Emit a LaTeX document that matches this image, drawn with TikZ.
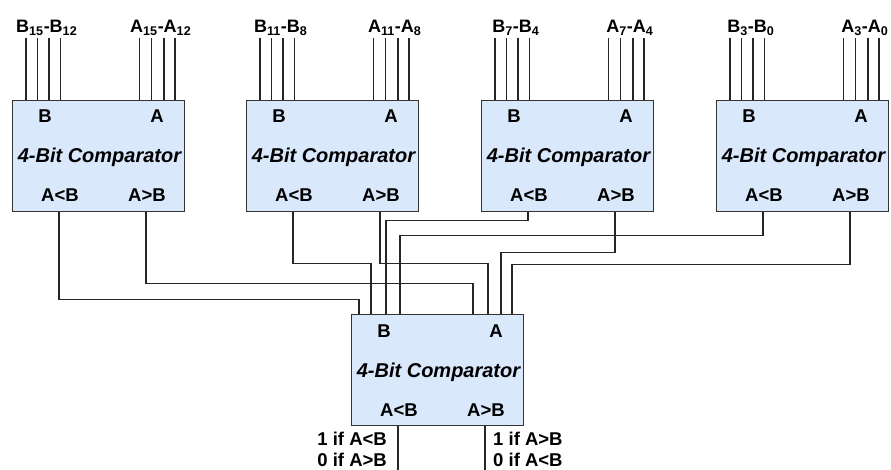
\documentclass[tikz,border=0pt]{standalone}
\usepackage{fontspec}
\setmainfont{Liberation Sans}
\usetikzlibrary{calc}
\definecolor{cmpblue}{HTML}{DAE8FC}
\definecolor{cmpline}{HTML}{333333}
\tikzset{cmp/.style={draw=cmpline, line width=1.4pt, fill=cmpblue, minimum width=172pt, minimum height=111pt, anchor=north west, inner sep=0pt},
  pinlbl/.style={font=\bfseries\fontsize{18.5}{20}\selectfont, inner sep=0pt, anchor=base},
  cmptitle/.style={font=\bfseries\itshape\fontsize{20}{22}\selectfont, inner sep=0pt, anchor=base},
  buslbl/.style={font=\bfseries\fontsize{18}{20}\selectfont, inner sep=0pt, anchor=base},
  outlbl/.style={font=\bfseries\fontsize{18.5}{21}\selectfont, inner sep=0pt},
  wire/.style={line width=1.3pt, draw=black!85}}
\newcommand{\cmpbox}[3]{%
\node[cmp] (#1) at (#2,#3) {};
\node[pinlbl] (#1-B) at ($(#1.north west)+(33,23)$) {B}; \node[pinlbl] (#1-A) at ($(#1.north west)+(145,23)$) {A};
\node[cmptitle] (#1-t) at ($(#1.north west)+(87.5,63)$) {4-Bit Comparator};
\node[pinlbl] (#1-L) at ($(#1.north west)+(48,102)$) {A<B}; \node[pinlbl] (#1-G) at ($(#1.north west)+(135,102)$) {A>B};
\coordinate (#1-lt) at ($(#1.south west)+(47,0)$); \coordinate (#1-gt) at ($(#1.south west)+(134,0)$);}
\newcommand{\cmpins}[9]{%
\coordinate (#1-b1) at ($(#1.north west)+(#2,0)$); \coordinate (#1-b2) at ($(#1.north west)+(#3,0)$);
\coordinate (#1-b3) at ($(#1.north west)+(#4,0)$); \coordinate (#1-b4) at ($(#1.north west)+(#5,0)$);
\coordinate (#1-a1) at ($(#1.north west)+(#6,0)$); \coordinate (#1-a2) at ($(#1.north west)+(#7,0)$);
\coordinate (#1-a3) at ($(#1.north west)+(#8,0)$); \coordinate (#1-a4) at ($(#1.north west)+(#9,0)$);}
\newcommand{\busin}[1]{%
\draw[wire] (#1-b1) -- ++(0,-62) (#1-b2) -- ++(0,-62) (#1-b3) -- ++(0,-62) (#1-b4) -- ++(0,-62)
  (#1-a1) -- ++(0,-62) (#1-a2) -- ++(0,-62) (#1-a3) -- ++(0,-62) (#1-a4) -- ++(0,-62);}

\begin{document}
\begin{tikzpicture}[x=1pt, y=-1pt]
\useasboundingbox (0,0) rectangle (891,470);
% the four nibble comparators
\cmpbox{c1}{12}{100} \cmpins{c1}{14}{25.5}{37}{48.5}{127.5}{139.5}{152}{163} \busin{c1}
\cmpbox{c2}{246}{100} \cmpins{c2}{14}{25.5}{37}{48.5}{127.5}{139.5}{152}{163} \busin{c2}
\cmpbox{c3}{481}{100} \cmpins{c3}{14}{25.5}{37}{48.5}{127.5}{139.5}{152}{163} \busin{c3}
\cmpbox{c4}{716}{100} \cmpins{c4}{14}{25.5}{37}{48.5}{127.5}{139.5}{152}{163} \busin{c4}
\node[buslbl] (c1-bl) at ($(c1-b1)!0.5!(c1-b4)+(3.5,-67)$) {B\textsubscript{15}-B\textsubscript{12}}; \node[buslbl] (c1-al) at ($(c1-a1)!0.5!(c1-a4)+(3.5,-67)$) {A\textsubscript{15}-A\textsubscript{12}};
\node[buslbl] (c2-bl) at ($(c2-b1)!0.5!(c2-b4)+(3.5,-67)$) {B\textsubscript{11}-B\textsubscript{8}}; \node[buslbl] (c2-al) at ($(c2-a1)!0.5!(c2-a4)+(3.5,-67)$) {A\textsubscript{11}-A\textsubscript{8}};
\node[buslbl] (c3-bl) at ($(c3-b1)!0.5!(c3-b4)+(3.5,-67)$) {B\textsubscript{7}-B\textsubscript{4}}; \node[buslbl] (c3-al) at ($(c3-a1)!0.5!(c3-a4)+(3.5,-67)$) {A\textsubscript{7}-A\textsubscript{4}};
\node[buslbl] (c4-bl) at ($(c4-b1)!0.5!(c4-b4)+(3.5,-67)$) {B\textsubscript{3}-B\textsubscript{0}}; \node[buslbl] (c4-al) at ($(c4-a1)!0.5!(c4-a4)+(3.5,-67)$) {A\textsubscript{3}-A\textsubscript{0}};
% final stage
\cmpbox{cm}{351}{314} \cmpins{cm}{8}{20}{35}{49}{122}{137}{150}{161}
\draw[wire] (c1-lt) -- ++(0,87) -| (cm-b1); \draw[wire] (c1-gt) -- ++(0,71) -| (cm-a1);
\draw[wire] (c2-lt) -- ++(0,51) -| (cm-b2); \draw[wire] (c2-gt) -- ++(0,51) -| (cm-a2);
\draw[wire] (c3-lt) -- ++(0,8) -| (cm-b3); \draw[wire] (c3-gt) -- ++(0,40) -| (cm-a3);
\draw[wire] (c4-lt) -- ++(0,23) -| (cm-b4); \draw[wire] (c4-gt) -- ++(0,52) -| (cm-a4);
\coordinate (lt-end) at ($(cm-lt)+(0,46)$); \coordinate (gt-end) at ($(cm-gt)+(0,46)$);
\draw[wire] (cm-lt) -- (lt-end); \draw[wire] (cm-gt) -- (gt-end);
\node[outlbl, anchor=north east, align=right] (lt-txt) at ($(cm-lt)+(-11,5)$) {1 if A<B\\0 if A>B};
\node[outlbl, anchor=north west, align=left] (gt-txt) at ($(cm-gt)+(8,5)$) {1 if A>B\\0 if A<B};
\end{tikzpicture}
\end{document}
